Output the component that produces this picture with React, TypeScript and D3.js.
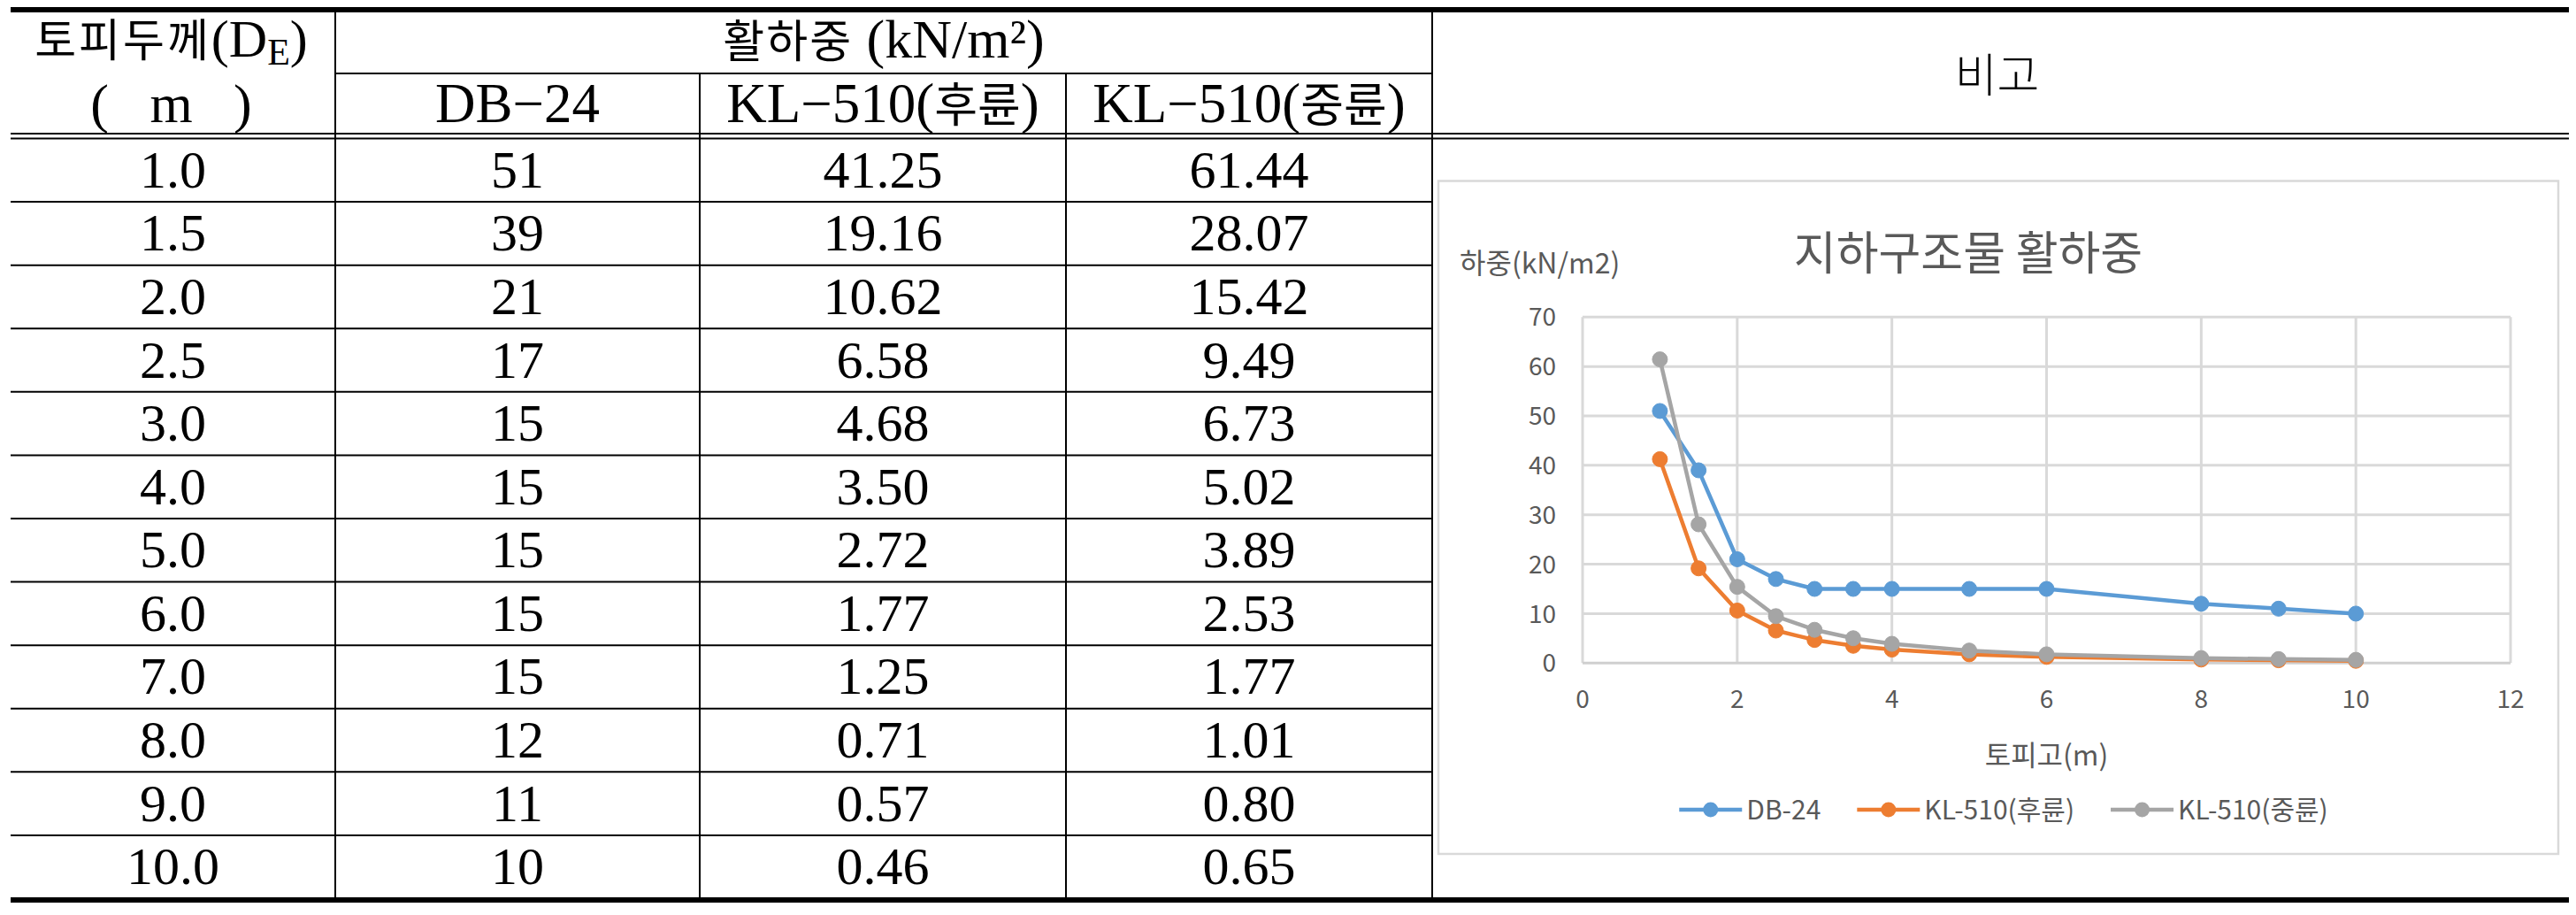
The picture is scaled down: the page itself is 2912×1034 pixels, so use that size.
import React, { useEffect, useRef } from "react";
import * as d3 from "d3";

// ---------- data ----------
const depthLabels = ["1.0", "1.5", "2.0", "2.5", "3.0", "4.0", "5.0", "6.0", "7.0", "8.0", "9.0", "10.0"];
const db24 = [51, 39, 21, 17, 15, 15, 15, 15, 15, 12, 11, 10];
const klRear = [41.25, 19.16, 10.62, 6.58, 4.68, 3.5, 2.72, 1.77, 1.25, 0.71, 0.57, 0.46];
const klMid = [61.44, 28.07, 15.42, 9.49, 6.73, 5.02, 3.89, 2.53, 1.77, 1.01, 0.8, 0.65];
// x values used by the embedded chart
const chartDepths = [1, 1.5, 2, 2.5, 3, 3.5, 4, 5, 6, 8, 9, 10];
const seriesNames = ["DB-24", "KL-510(후륜)", "KL-510(중륜)"];
const seriesColors = ["#5B9BD5", "#ED7D31", "#A5A5A5"];
const xTicks = [0, 2, 4, 6, 8, 10, 12];
const yTicks = [0, 10, 20, 30, 40, 50, 60, 70];
const headerCols = ["DB−24", "KL−510(후륜)", "KL−510(중륜)"];
const chartTitle = "지하구조물 활하중";
const yAxisTitle = "하중(kN/m2)";
const xAxisTitle = "토피고(m)";

const W = 2912;
const H = 1034;
const SERIF = "'Liberation Serif', 'Noto Sans CJK KR', serif";
const SANS = "'Noto Sans CJK KR', 'Noto Sans', sans-serif";

function appendMixed(sel: any, str: string, latinSize: number, hangulSize: number, hangulSpacing = 0) {
  const parts = str.split(/([\u3131-\uD79D]+)/).filter((p) => p.length > 0);
  parts.forEach((p) => {
    const isH = /[\u3131-\uD79D]/.test(p);
    sel
      .append("tspan")
      .attr("font-family", isH ? SANS : SERIF)
      .attr("font-size", isH ? hangulSize : latinSize)
      .attr("letter-spacing", isH ? hangulSpacing : 0)
      .text(p);
  });
}

export default function App() {
  const ref = useRef<SVGSVGElement | null>(null);

  useEffect(() => {
    const svg = d3.select(ref.current);
    svg.selectAll("*").remove();

    // ---------- table ----------
    const colEdges = [12, 379, 791, 1205, 1619, 2904];
    const rowY = d3.scaleLinear().domain([0, 12]).range([156.5, 1015.5]);
    const g = svg.append("g");

    g.append("rect").attr("x", colEdges[0]).attr("y", 8).attr("width", colEdges[5] - colEdges[0]).attr("height", 6).attr("fill", "#000");
    g.append("rect").attr("x", colEdges[0]).attr("y", 1014).attr("width", colEdges[5] - colEdges[0]).attr("height", 6).attr("fill", "#000");
    [151, 156.5].forEach((yy) =>
      g.append("line").attr("x1", colEdges[0]).attr("x2", colEdges[5]).attr("y1", yy).attr("y2", yy).attr("stroke", "#000").attr("stroke-width", 2.2)
    );
    g.append("line").attr("x1", colEdges[1]).attr("x2", colEdges[4]).attr("y1", 83).attr("y2", 83).attr("stroke", "#000").attr("stroke-width", 2);
    d3.range(1, 12).forEach((i) =>
      g.append("line").attr("x1", colEdges[0]).attr("x2", colEdges[4]).attr("y1", rowY(i)).attr("y2", rowY(i)).attr("stroke", "#000").attr("stroke-width", 2)
    );
    [colEdges[1], colEdges[4]].forEach((xx) =>
      g.append("line").attr("x1", xx).attr("x2", xx).attr("y1", 14).attr("y2", 1014).attr("stroke", "#000").attr("stroke-width", 2)
    );
    [colEdges[2], colEdges[3]].forEach((xx) =>
      g.append("line").attr("x1", xx).attr("x2", xx).attr("y1", 83).attr("y2", 1014).attr("stroke", "#000").attr("stroke-width", 2)
    );

    const colCenter = (c: number) => (colEdges[c] + colEdges[c + 1]) / 2;

    const t1 = g.append("text").attr("x", colCenter(0) - 2).attr("y", 64).attr("text-anchor", "middle").attr("fill", "#000");
    appendMixed(t1, "토피두께(D", 60, 51, 3);
    t1.append("tspan").attr("font-family", SERIF).attr("font-size", 42).attr("dy", 9).text("E");
    t1.append("tspan").attr("font-family", SERIF).attr("font-size", 60).attr("dy", -9).text(")");

    g.append("text")
      .attr("x", colCenter(0) - 2)
      .attr("y", 138)
      .attr("text-anchor", "middle")
      .attr("font-family", SERIF)
      .attr("font-size", 62)
      .style("white-space", "pre")
      .text("(   m   )");

    const t2 = g.append("text").attr("x", (colEdges[1] + colEdges[4]) / 2).attr("y", 65).attr("text-anchor", "middle").attr("fill", "#000");
    appendMixed(t2, "활하중 (kN/m²)", 62, 51, 2);

    headerCols.forEach((h, i) => {
      const t = g.append("text").attr("x", colCenter(i + 1)).attr("y", 138).attr("text-anchor", "middle").attr("fill", "#000");
      appendMixed(t, h, 63, 53);
    });

    g.append("text")
      .attr("x", colCenter(4) - 4)
      .attr("y", 104)
      .attr("text-anchor", "middle")
      .attr("font-family", SANS)
      .attr("font-weight", 300)
      .attr("font-size", 52)
      .text("비고");

    const rowsText = depthLabels.map((d, i) => [d, String(db24[i]), klRear[i].toFixed(2), klMid[i].toFixed(2)]);
    rowsText.forEach((row, i) => {
      row.forEach((v, c) => {
        g.append("text")
          .attr("x", colCenter(c))
          .attr("y", rowY(i + 0.5) + 19.5)
          .attr("text-anchor", "middle")
          .attr("font-family", SERIF)
          .attr("font-size", 60)
          .attr("fill", "#000")
          .text(v);
      });
    });

    // ---------- chart ----------
    const cg = svg.append("g");
    cg.append("rect")
      .attr("x", 1626)
      .attr("y", 204.5)
      .attr("width", 2892 - 1626)
      .attr("height", 965 - 204.5)
      .attr("fill", "#fff")
      .attr("stroke", "#d9d9d9")
      .attr("stroke-width", 2.5);

    const x = d3.scaleLinear().domain([0, 12]).range([1789, 2838]);
    const y = d3.scaleLinear().domain([0, 70]).range([749.3, 358.3]);

    cg.selectAll(".vg")
      .data(xTicks)
      .enter()
      .append("line")
      .attr("x1", (d) => x(d))
      .attr("x2", (d) => x(d))
      .attr("y1", y(70))
      .attr("y2", y(0))
      .attr("stroke", "#d9d9d9")
      .attr("stroke-width", 3);
    cg.selectAll(".hg")
      .data(yTicks)
      .enter()
      .append("line")
      .attr("x1", x(0))
      .attr("x2", x(12))
      .attr("y1", (d) => y(d))
      .attr("y2", (d) => y(d))
      .attr("stroke", (d) => (d === 0 ? "#cfcfcf" : "#d9d9d9"))
      .attr("stroke-width", 3);

    cg.selectAll(".yl")
      .data(yTicks)
      .enter()
      .append("text")
      .attr("x", 1759)
      .attr("y", (d) => y(d))
      .attr("dy", "0.36em")
      .attr("text-anchor", "end")
      .attr("font-family", SANS)
      .attr("font-size", 28)
      .attr("fill", "#595959")
      .text((d) => String(d));
    cg.selectAll(".xl")
      .data(xTicks)
      .enter()
      .append("text")
      .attr("x", (d) => x(d))
      .attr("y", 800)
      .attr("text-anchor", "middle")
      .attr("font-family", SANS)
      .attr("font-size", 28)
      .attr("fill", "#595959")
      .text((d) => String(d));

    cg.append("text")
      .attr("x", 2225)
      .attr("y", 305)
      .attr("text-anchor", "middle")
      .attr("font-family", SANS)
      .attr("font-size", 52)
      .attr("fill", "#595959")
      .text(chartTitle);
    cg.append("text")
      .attr("x", 1650)
      .attr("y", 309)
      .attr("font-family", SANS)
      .attr("font-size", 32)
      .attr("fill", "#595959")
      .text(yAxisTitle);
    cg.append("text")
      .attr("x", (x(0) + x(12)) / 2)
      .attr("y", 865)
      .attr("text-anchor", "middle")
      .attr("font-family", SANS)
      .attr("font-size", 32)
      .attr("fill", "#595959")
      .text(xAxisTitle);

    const allSeries = [db24, klRear, klMid];
    const line = d3
      .line<number>()
      .x((_, i) => x(chartDepths[i]))
      .y((d) => y(d));
    allSeries.forEach((vals, si) => {
      cg.append("path")
        .attr("d", line(vals) as string)
        .attr("fill", "none")
        .attr("stroke", seriesColors[si])
        .attr("stroke-width", 4.5)
        .attr("stroke-linejoin", "round")
        .attr("stroke-linecap", "round");
      cg.selectAll(".m" + si)
        .data(vals)
        .enter()
        .append("circle")
        .attr("cx", (_, i) => x(chartDepths[i]))
        .attr("cy", (d) => y(d))
        .attr("r", 8.5)
        .attr("fill", seriesColors[si])
        .attr("stroke", seriesColors[si])
        .attr("stroke-width", 1);
    });

    const lg = cg.append("g");
    const lineLen = 71;
    const textGap = 5;
    const itemGap = 41;
    const legY = 915;
    const items = seriesNames.map((name, i) => {
      const it = lg.append("g");
      it.append("line").attr("x1", 0).attr("x2", lineLen).attr("y1", legY).attr("y2", legY).attr("stroke", seriesColors[i]).attr("stroke-width", 4.5);
      it.append("circle").attr("cx", lineLen / 2).attr("cy", legY).attr("r", 8.5).attr("fill", seriesColors[i]);
      const t = it
        .append("text")
        .attr("x", lineLen + textGap)
        .attr("y", legY)
        .attr("dy", "0.36em")
        .attr("font-family", SANS)
        .attr("font-size", 30)
        .attr("fill", "#595959")
        .text(name);
      const tw = (t.node() as SVGTextElement).getComputedTextLength();
      return { it, w: lineLen + textGap + tw };
    });
    const total = d3.sum(items, (d) => d.w) + itemGap * (items.length - 1);
    let cx = 2265 - total / 2;
    items.forEach((d) => {
      d.it.attr("transform", `translate(${cx},0)`);
      cx += d.w + itemGap;
    });
  }, []);

  return (
    <svg
      ref={ref}
      width={W}
      height={H}
      style={{ position: "absolute", left: 0, top: 0, display: "block", background: "#fff" }}
    />
  );
}
